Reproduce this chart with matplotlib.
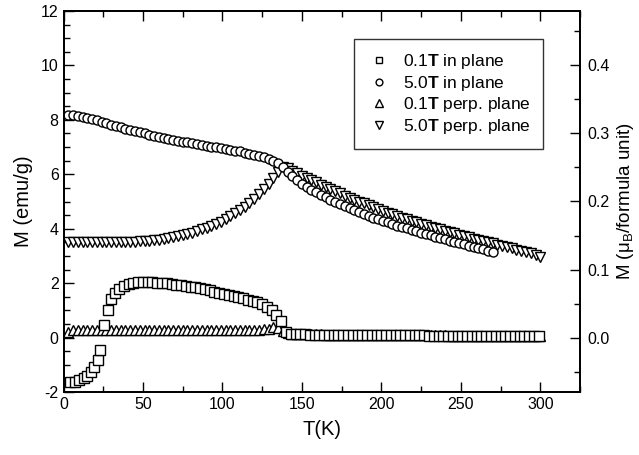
import matplotlib
matplotlib.use("Agg")
import matplotlib.pyplot as plt
from matplotlib.ticker import MultipleLocator, FormatStrFormatter

plt.rcParams['font.family'] = ['Liberation Sans', 'DejaVu Sans']
plt.rcParams['mathtext.fontset'] = 'custom'
plt.rcParams['mathtext.rm'] = 'Liberation Sans'
plt.rcParams['mathtext.bf'] = 'Liberation Sans:bold'
plt.rcParams['mathtext.it'] = 'Liberation Sans:italic'
plt.rcParams['axes.unicode_minus'] = False

# ---- data: 0.1 T in plane (squares) ----
T_sq = [4, 7, 10, 13, 15, 17, 19.5, 21.5, 23, 25.5, 28, 30, 32.5, 35, 38,
        41, 44, 47, 50, 53, 56, 59, 62, 65, 68, 71, 74, 77, 80, 83, 86, 89, 92, 95, 98,
        101, 104, 107, 110, 113, 116, 119, 122, 125, 128, 131, 134, 137, 140, 143, 146,
        149, 152, 155, 158, 161, 164, 167, 170, 173, 176, 179, 182, 185, 188, 191, 194,
        197, 200, 203, 206, 209, 212, 215, 218, 221, 224, 227, 230, 233, 236, 239, 242,
        245, 248, 251, 254, 257, 260, 263, 266, 269, 272, 275, 278, 281, 284, 287, 290,
        293, 296, 299]
M_sq = [-1.64, -1.62, -1.57, -1.5, -1.42, -1.27, -1.08, -0.83, -0.46, 0.45, 1.0, 1.4, 1.63, 1.77, 1.9,
        1.97, 2.01, 2.03, 2.04, 2.04, 2.03, 2.02, 2.01, 1.99, 1.97, 1.95, 1.92, 1.9, 1.87, 1.84, 1.81, 1.77, 1.73, 1.69, 1.65,
        1.61, 1.57, 1.53, 1.49, 1.44, 1.39, 1.34, 1.29, 1.22, 1.14, 1.0, 0.84, 0.6, 0.2, 0.13, 0.12,
        0.12, 0.12, 0.11, 0.11, 0.11, 0.11, 0.11, 0.1, 0.1, 0.1, 0.1, 0.1, 0.1, 0.1, 0.09, 0.09,
        0.09, 0.09, 0.09, 0.09, 0.08, 0.08, 0.08, 0.08, 0.08, 0.08, 0.08, 0.07, 0.07, 0.07, 0.07, 0.07,
        0.07, 0.07, 0.06, 0.06, 0.06, 0.06, 0.06, 0.06, 0.06, 0.06, 0.05, 0.05, 0.05, 0.05, 0.05, 0.05,
        0.05, 0.05, 0.05]

# ---- common temperature grid ----
T_grid = list(range(3, 301, 3))

# ---- 5.0 T in plane (circles) ----
T_ci = T_grid[:90]
M_ci = [8.17, 8.17, 8.15, 8.12, 8.08, 8.04, 7.99, 7.93, 7.87, 7.82,
        7.77, 7.72, 7.67, 7.62, 7.58, 7.54, 7.5, 7.46, 7.42, 7.38,
        7.34, 7.3, 7.27, 7.23, 7.2, 7.17, 7.14, 7.11, 7.08, 7.05,
        7.02, 6.99, 6.96, 6.93, 6.9, 6.87, 6.84, 6.8, 6.76, 6.72,
        6.67, 6.62, 6.56, 6.49, 6.4, 6.27, 6.1, 5.93, 5.78, 5.65,
        5.55, 5.44, 5.34, 5.25, 5.15, 5.07, 4.99, 4.91, 4.83, 4.76,
        4.68, 4.61, 4.54, 4.48, 4.41, 4.35, 4.29, 4.23, 4.17, 4.11,
        4.06, 4.01, 3.96, 3.91, 3.86, 3.81, 3.76, 3.71, 3.66, 3.61,
        3.56, 3.52, 3.47, 3.43, 3.38, 3.34, 3.29, 3.24, 3.19, 3.15]

# ---- 0.1 T perp. plane (up triangles) ----
T_up = T_grid
M_up = [0.2, 0.27, 0.28, 0.28, 0.28, 0.28, 0.28, 0.28, 0.28, 0.28,
        0.28, 0.28, 0.28, 0.28, 0.28, 0.28, 0.28, 0.28, 0.28, 0.28,
        0.28, 0.28, 0.28, 0.28, 0.28, 0.28, 0.28, 0.28, 0.28, 0.28,
        0.28, 0.28, 0.28, 0.28, 0.28, 0.28, 0.28, 0.28, 0.28, 0.28,
        0.29, 0.3, 0.33, 0.4, 0.35, 0.25, 0.17, 0.13, 0.12, 0.12,
        0.12, 0.12, 0.12, 0.12, 0.11, 0.11, 0.11, 0.11, 0.11, 0.11,
        0.1, 0.1, 0.1, 0.1, 0.1, 0.1, 0.1, 0.09, 0.09, 0.09,
        0.09, 0.09, 0.09, 0.08, 0.08, 0.08, 0.08, 0.08, 0.08, 0.08,
        0.07, 0.07, 0.07, 0.07, 0.07, 0.07, 0.07, 0.06, 0.06, 0.06,
        0.06, 0.06, 0.06, 0.06, 0.05, 0.05, 0.05, 0.05, 0.05, 0.05]

# ---- 5.0 T perp. plane (down triangles) ----
T_dn = T_grid
M_dn = [3.5, 3.5, 3.5, 3.5, 3.5, 3.5, 3.5, 3.5, 3.5, 3.5,
        3.51, 3.51, 3.52, 3.52, 3.53, 3.54, 3.55, 3.56, 3.58, 3.6,
        3.62, 3.65, 3.68, 3.72, 3.76, 3.81, 3.86, 3.92, 3.98, 4.04,
        4.11, 4.18, 4.26, 4.35, 4.45, 4.56, 4.68, 4.81, 4.95, 5.1,
        5.27, 5.46, 5.66, 5.88, 6.1, 6.28, 6.22, 6.12, 6.03, 5.94,
        5.86, 5.78, 5.7, 5.62, 5.54, 5.46, 5.38, 5.3, 5.22, 5.14,
        5.07, 5.0, 4.93, 4.86, 4.79, 4.72, 4.65, 4.59, 4.53, 4.47,
        4.41, 4.35, 4.29, 4.24, 4.19, 4.14, 4.08, 4.03, 3.98, 3.93,
        3.88, 3.83, 3.78, 3.74, 3.69, 3.64, 3.6, 3.55, 3.51, 3.46,
        3.41, 3.37, 3.32, 3.28, 3.23, 3.19, 3.14, 3.1, 3.05, 2.97]

labels = [r'0.1$\mathbf{T}$ in plane', r'5.0$\mathbf{T}$ in plane',
          r'0.1$\mathbf{T}$ perp. plane', r'5.0$\mathbf{T}$ perp. plane']

fig = plt.figure(figsize=(6.39, 4.55), dpi=100)
ax = fig.add_axes([63.5/639, 1 - 392/455, (580-63.5)/639, (392-11)/455])

mk = dict(linestyle='none', markerfacecolor='white', markeredgecolor='black',
          markeredgewidth=1.0)
ax.plot(T_dn, M_dn, marker='v', markersize=7, label=labels[3], **mk)
ax.plot(T_up, M_up, marker='^', markersize=7, label=labels[2], **mk)
ax.plot(T_ci, M_ci, marker='o', markersize=6.5, label=labels[1], **mk)
ax.plot(T_sq, M_sq, marker='s', markersize=6.5, label=labels[0], **mk)

ax.set_xlim(0, 325)
ax.set_ylim(-2, 12)
ax.xaxis.set_major_locator(MultipleLocator(50))
ax.xaxis.set_minor_locator(MultipleLocator(25))
ax.yaxis.set_major_locator(MultipleLocator(2))
ax.yaxis.set_minor_locator(MultipleLocator(0.5))
ax.tick_params(which='both', direction='in', top=True, right=False,
               labelsize=11.5, width=1.0)
ax.tick_params(which='major', length=7)
ax.tick_params(which='minor', length=4)
for s in ax.spines.values():
    s.set_linewidth(1.3)

ax.set_xlabel('T(K)', fontsize=14.5, labelpad=6)
ax.set_ylabel('M (emu/g)', fontsize=14.5, labelpad=6)

ax2 = ax.twinx()
ax2.set_ylim(-2/25, 12/25)
ax2.yaxis.set_major_locator(MultipleLocator(0.1))
ax2.yaxis.set_minor_locator(MultipleLocator(0.05))
ax2.yaxis.set_major_formatter(FormatStrFormatter('%.1f'))
ax2.tick_params(which='both', direction='in', labelsize=11.5, width=1.0, pad=5)
ax2.tick_params(which='major', length=7)
ax2.tick_params(which='minor', length=4)
ax2.set_ylabel('M (μ$_\\mathrm{B}$/formula unit)', fontsize=13.5, labelpad=4)
for s in ax2.spines.values():
    s.set_linewidth(1.3)

h, l = ax.get_legend_handles_labels()
order = [3, 2, 1, 0]
leg = ax.legend([h[i] for i in order], [l[i] for i in order],
                loc='upper left', bbox_to_anchor=(0.5625, 0.9265),
                borderaxespad=0.0,
                fontsize=12.5, frameon=True, fancybox=False, markerscale=0.75,
                handlelength=1.4, handletextpad=0.65, borderpad=0.75,
                labelspacing=0.15)
leg.get_frame().set_edgecolor('black')
leg.get_frame().set_linewidth(1.0)

fig.savefig('out.png', dpi=100)
